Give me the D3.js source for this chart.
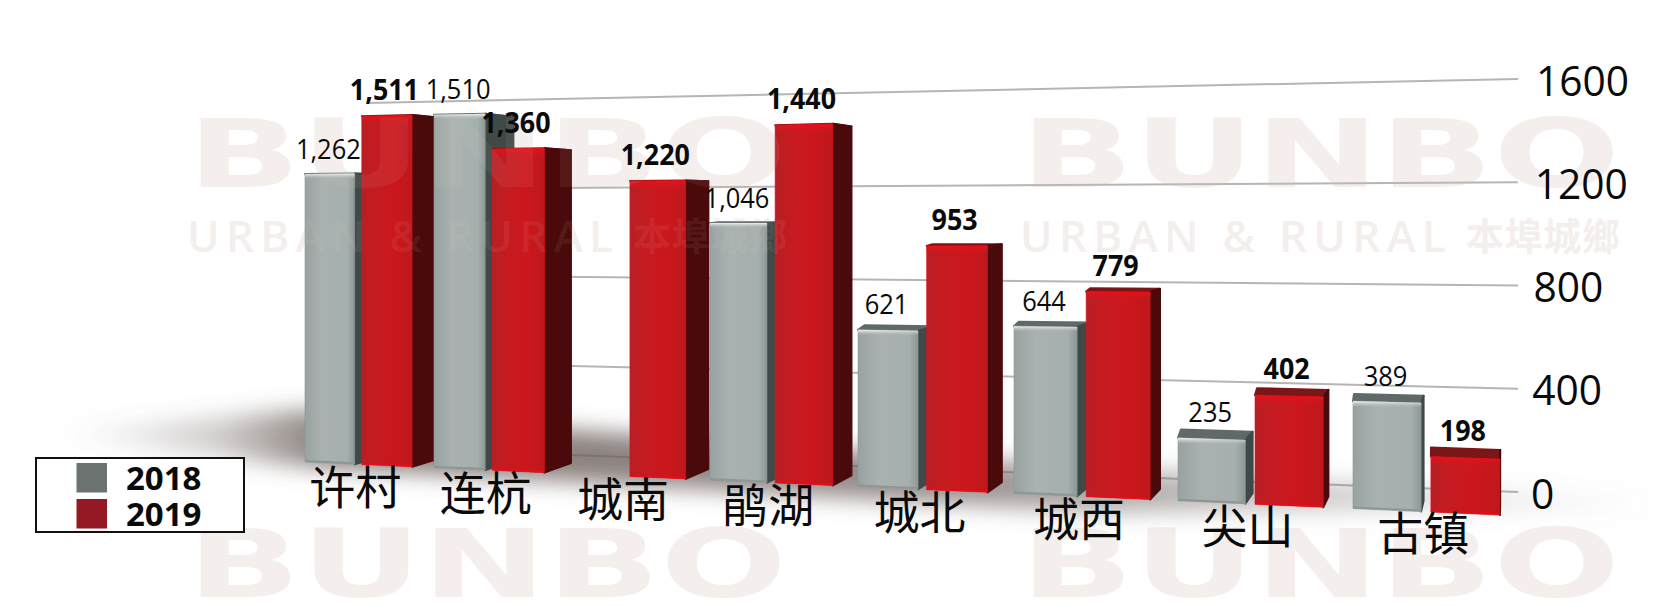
<!DOCTYPE html>
<html><head><meta charset="utf-8">
<style>html,body{margin:0;padding:0;background:#fff}svg{display:block}</style>
<script src="https://cdn.jsdelivr.net/npm/d3@7/dist/d3.min.js"></script>
</head><body><div id="c"></div>
<script>
const categories=["许村","连杭","城南","鹃湖","城北","城西","尖山","古镇"];
const values2018=[1262,1510,null,1046,621,644,235,389];
const values2019=[1511,1360,1220,1440,953,779,402,198];
const tickValues=[0,400,800,1200,1600];
const legendLabels=["2018","2019"];
const W=1680,H=611;
const svg=d3.select("#c").append("svg").attr("width",W).attr("height",H);
const defs=svg.append("defs");
function grad(id,stops,o={}){
  const g=defs.append("linearGradient").attr("id",id);
  Object.entries(Object.assign({x1:0,y1:0,x2:1,y2:0},o)).forEach(([k,v])=>g.attr(k,v));
  stops.forEach(s=>g.append("stop").attr("offset",s[0]).attr("stop-color",s[1]).attr("stop-opacity",s[2]==null?1:s[2]));
}
grad("fg",[[0,"#98a2a0"],[.35,"#a9b2b0"],[.85,"#a5afad"],[1,"#8d9795"]]);
grad("fr",[[0,"#b81f25"],[.25,"#c41b21"],[.65,"#cc171c"],[1,"#bd181d"]]);
grad("hg",[[0,"#eef2f1"],[.45,"#ccd3d2",.6],[1,"#a9b2b0",0]],{x2:0,y2:1});
grad("hr",[[0,"#ea0f18"],[.5,"#dc141b",.6],[1,"#cc171c",0]],{x2:0,y2:1});
grad("sh",[[0,"#6b5f5b",0],[.1,"#6b5f5b",.32],[.17,"#655955",.8],[.55,"#6b5f5b",.7],[.8,"#7b7371",.35],[1,"#8b8381",0]],{gradientUnits:"userSpaceOnUse",x1:60,y1:0,x2:1670,y2:0});
defs.append("filter").attr("id","blur").attr("x","-10%").attr("y","-100%").attr("width","120%").attr("height","300%")
  .append("feGaussianBlur").attr("stdDeviation",11);

// perspective: position along the receding axis, front baseline and 1600 level of the bars
const xPos=d3.scaleLinear().domain(d3.range(9)).range([305,434,567,710,858,1014,1178,1353,1530]);
const barBase=d3.scaleLinear().domain([305,1430]).range([462,512]);
const barTop=d3.scaleLinear().domain([305,774,1430]).range([97,85.5,64]);
const barY=(v,x)=>d3.scaleLinear().domain([0,1600]).range([barBase(x),barTop(x)])(v);
// wall gridlines
const wallBase=d3.scaleLinear().domain([571,1517]).range([455,492]);
const wallTop=d3.scaleLinear().domain([367,1517]).range([103,79]);
const wallY=(v,x)=>d3.scaleLinear().domain([0,1600]).range([wallBase(x),wallTop(x)])(v);
const depth=x=>Math.max(0,.0275*(1510-x));
const rise=y=>(y-200)*.035;
const poly=p=>d3.line()(p)+"Z";

function watermark(parent,fill,opacity){
  const wm=parent.append("g").attr("fill",fill).attr("opacity",opacity);
  [[187,187],[1020,187],[187,597],[1020,597]].forEach(([x,y])=>{
    wm.append("text").text("BUNBO").attr("x",x).attr("y",y).attr("font-family","DejaVu Sans").attr("font-weight","bold")
      .attr("font-size",94).attr("textLength",600).attr("lengthAdjust","spacingAndGlyphs");
  });
  [187,1020].forEach(x=>{
    wm.append("text").text("URBAN & RURAL").attr("x",x).attr("y",252).attr("font-family","Open Sans").attr("font-weight",600)
      .attr("font-size",44).attr("textLength",426).attr("lengthAdjust","spacing");
    wm.append("text").text("本埠城鄉").attr("x",x+446).attr("y",250).attr("font-family","Noto Sans CJK TC").attr("font-weight",700)
      .attr("font-size",38).attr("textLength",154);
  });
}
watermark(svg,"#f5f1ef",1);

// gridlines
const gx0=367,gx1=1518;
svg.append("g").selectAll("path").data(tickValues).join("path")
  .attr("d",v=>d3.line()([[gx0,wallY(v,gx0)],[gx1,wallY(v,gx1)]]))
  .attr("stroke","#b7b5b3").attr("stroke-width",2).attr("fill","none");

// floor shadow
svg.append("path").attr("d",poly([[70,430],[300,410],[600,432],[1100,468],[1650,500],[1650,508],[1100,512],[300,466],[70,438]]))
  .attr("fill","url(#sh)").attr("filter","url(#blur)");

// bars
const series=[{vals:values2018,a:0,b:.385,front:"url(#fg)",side:"#3f4947",top:"#5f6a68",hi:"url(#hg)",edge:"#8d9795"},
              {vals:values2019,a:.44,b:.83,front:"url(#fr)",side:"#4a0a0c",top:"#7a1518",hi:"url(#hr)",edge:"#e0101a"}];
const bars=svg.append("g");
const labels=[];
categories.forEach((c,i)=>{
  series.forEach((s,si)=>{
    const v=s.vals[i]; if(v==null) return;
    const xL=xPos(i+s.a),xR=xPos(i+s.b);
    const tL=barY(v,xL),tR=barY(v,xR),bL=barY(0,xL),bR=barY(0,xR);
    const d=depth(xR),g=bars.append("g");
    g.append("path").attr("d",poly([[xL,tL],[xR,tR],[xR+d,tR-rise(tR)],[xL+d*.4,tL-rise(tL)]])).attr("fill",s.top)
      .attr("stroke",s.top).attr("stroke-width",2).attr("stroke-linejoin","round");
    g.append("path").attr("d",poly([[xR,tR],[xR+d,tR-rise(tR)],[xR+d,bR-rise(bR)],[xR,bR]])).attr("fill",s.side)
      .attr("stroke",s.side).attr("stroke-width",2).attr("stroke-linejoin","round");
    g.append("path").attr("d",poly([[xL,tL],[xR,tR],[xR,bR],[xL,bL]])).attr("fill",s.front)
      .attr("stroke",s.edge).attr("stroke-width",.6).attr("stroke-linejoin","round");
    const hh=si?8:5;
    g.append("path").attr("d",poly([[xL,tL],[xR,tR],[xR,tR+hh],[xL,tL+hh]])).attr("fill",s.hi);
    g.append("path").attr("d",poly([[xL,bL-2],[xR,bR-2],[xR,bR],[xL,bL]])).attr("fill",s.edge);
    labels.push({v,x:(xL+xR)/2-(si?2.5:1.5),y:tL-(si?26:25.5),bold:si===1});
  });
});

watermark(svg,"#e8dcd6",.07);

// value labels
const fmt=d3.format(",");
svg.append("g").selectAll("text").data(labels).join("text").text(d=>fmt(d.v))
  .attr("transform",d=>`translate(${d.x},${d.y}) scale(${d.bold?.96:.91},1)`)
  .attr("text-anchor","middle").attr("dy",".36em").attr("font-family","Open Sans").attr("font-size",28)
  .attr("font-weight",d=>d.bold?700:400).attr("fill","#0a0a0a");

// category labels
const catY=d3.scaleLinear().domain([357,1425]).range([488,534]);
svg.append("g").selectAll("text").data(categories).join("text").text(d=>d)
  .attr("x",(d,i)=>xPos(i+.42)-4).attr("y",(d,i)=>catY(xPos(i+.42)-4)).attr("dy",".36em")
  .attr("text-anchor","middle").attr("font-family","Noto Sans CJK SC").attr("font-size",46).attr("fill","#0a0a0a");

// tick labels
const tickX=d3.scaleLinear().domain([0,1600]).range([1531,1536]);
svg.append("g").selectAll("text").data(tickValues).join("text").text(d=>d)
  .attr("transform",d=>`translate(${tickX(d)},${wallY(d,1517)+1.5}) scale(.97,1)`)
  .attr("dy",".36em").attr("font-family","Open Sans").attr("font-size",42).attr("fill","#0a0a0a");

// legend
const lg=svg.append("g");
lg.append("rect").attr("x",36).attr("y",458).attr("width",208).attr("height",74).attr("fill","#fff").attr("stroke","#111").attr("stroke-width",2);
const legendY=d3.scalePoint().domain(legendLabels).range([478,514]);
const legendColor=d3.scaleOrdinal().domain(legendLabels).range(["#6c7472","#931a24"]);
legendLabels.forEach(l=>{
  lg.append("rect").attr("x",76.5).attr("y",legendY(l)-15).attr("width",30.5).attr("height",29.5).attr("fill",legendColor(l));
  lg.append("text").text(l).attr("x",126).attr("y",legendY(l)).attr("dy",".36em").attr("font-family","Open Sans").attr("font-weight",700).attr("font-size",33).attr("fill","#0a0a0a");
});
</script></body></html>
